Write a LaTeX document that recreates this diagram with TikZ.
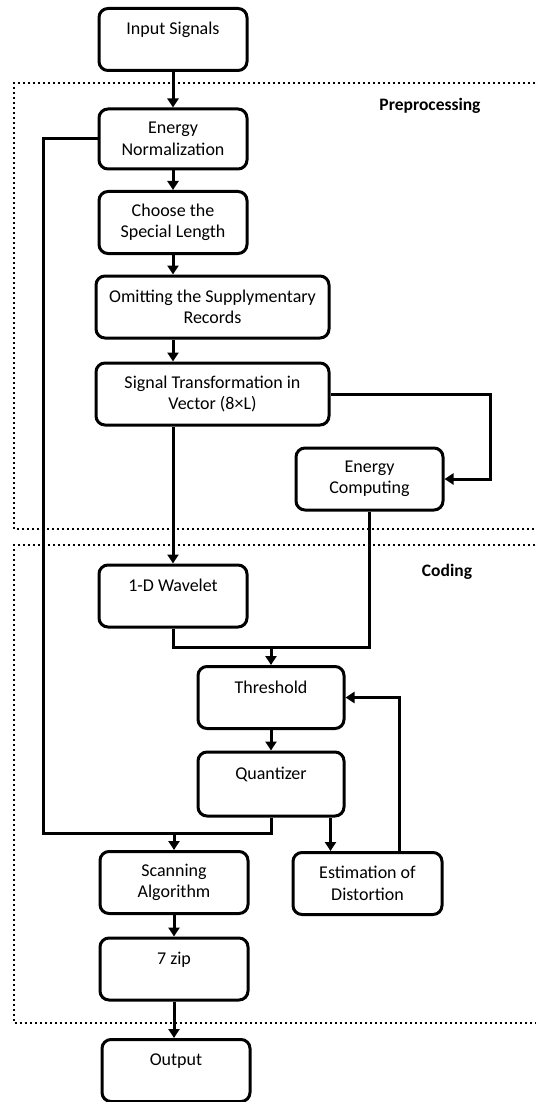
\documentclass[tikz,border=0pt]{standalone}
\usepackage{fontspec}
\setmainfont{Carlito}
\usetikzlibrary{arrows.meta}

\begin{document}
\begin{tikzpicture}[x=1pt,y=-1pt,>={Triangle[length=9pt,width=11pt]},
    box/.style={draw,line width=3pt,rounded corners=9pt,minimum width=148pt,
                minimum height=62pt,align=center,inner sep=0pt,
                font=\fontsize{18}{21.5}\selectfont},
    wide/.style={box,minimum width=233pt},
    link/.style={line width=3pt},
    zone/.style={line width=1.8pt,dash pattern=on 1.6pt off 3.4pt},
    tag/.style={font=\bfseries\fontsize{17.5}{21}\selectfont}]
    \useasboundingbox (0,0) rectangle (535,1102);
    \draw[zone] (545,83) -- (14,83) -- (14,529) -- (545,529);
    \draw[zone] (545,545) -- (14,545) -- (14,1023) -- (545,1023);
    \node[tag] (pre) at (430,106) {Preprocessing};
    \node[tag] (cod) at (447,572) {Coding};
    \node[box] (inp) at (173,39.5) {Input Signals\\~};
    \node[box,minimum height=60pt] (enorm) at (173,139) {Energy\\Normalization};
    \node[box] (choose) at (173,222.5) {Choose the\\Special Length};
    \node[wide] (omit) at (212.5,307) {Omitting the Supplymentary\\Records};
    \node[wide] (sigtr) at (212.5,394) {Signal Transformation in\\Vector (8×L)};
    \node[box,minimum width=147pt] (ecomp) at (369.5,479) {Energy\\Computing};
    \node[box] (wavelet) at (173,596) {1-D Wavelet\\~};
    \node[box,minimum width=146pt] (thresh) at (271,697.5) {Threshold\\~};
    \node[box,minimum width=146pt,minimum height=64pt] (quant) at (271,784) {Quantizer\\~};
    \node[box,minimum width=149pt] (estim) at (367.5,883.5) {Estimation of\\Distortion};
    \node[box] (scan) at (174,882.5) {Scanning\\Algorithm};
    \node[box] (zip) at (174,969) {7 zip\\~};
    \node[box] (outp) at (176,1070.5) {Output\\~};
    \coordinate (rbend) at (490,479);
    \coordinate (joinA) at (271,647);
    \coordinate (joinB) at (271,833);
    \coordinate (lcorner) at (43,833);
    \draw[->,link] (inp) -- (enorm);
    \draw[->,link] (enorm) -- (choose);
    \draw[->,link] (choose.south) -- (choose.south |- omit.north);
    \draw[->,link] (choose.south |- omit.south) -- (choose.south |- sigtr.north);
    \draw[->,link] (sigtr.east) -| (rbend) -- (ecomp.east);
    \draw[->,link] (wavelet.north |- sigtr.south) -- (wavelet.north);
    \draw[link] (wavelet.south) |- (joinA) -| (ecomp.south);
    \draw[->,link] (joinA) -- (thresh.north);
    \draw[->,link] (thresh) -- (quant);
    \draw[link] (quant.south) -- (joinB) -- (lcorner) |- (enorm.west);
    \draw[->,link] (scan.north |- joinB) -- (scan.north);
    \draw[->,link] ([xshift=-15pt]quant.south east) -- ([xshift=-15pt]quant.south east |- estim.north);
    \draw[->,link] ([xshift=32pt]estim.north) |- (thresh.east);
    \draw[->,link] (scan) -- (zip);
    \draw[->,link] (zip.south) -- (zip.south |- outp.north);
\end{tikzpicture}
\end{document}
